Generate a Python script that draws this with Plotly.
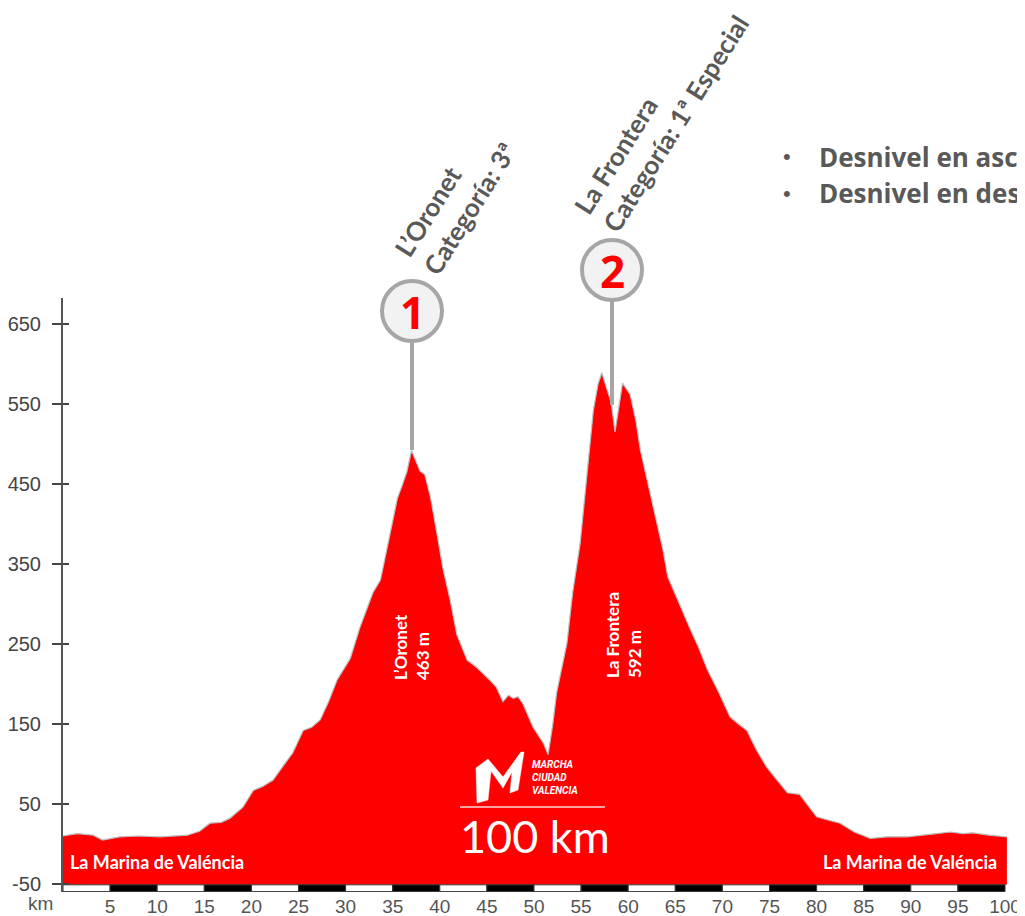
import plotly.graph_objects as go

# ---------------- data ----------------
km = [0.0, 1.5, 3.2, 4.2, 6.0, 8.0, 10.3, 12.0, 13.2, 14.5, 15.6, 16.8, 17.7, 19.1, 20.2,
      21.2, 22.3, 23.4, 24.4, 25.5, 26.4, 27.3, 28.2, 29.1, 30.5, 31.5, 32.9, 33.7, 34.7,
      35.5, 36.0, 36.5, 37.0, 37.5, 37.9, 38.4, 39.0, 39.7, 40.3, 41.1, 41.8, 42.9, 43.9,
      45.3, 46.0, 46.7, 47.3, 47.8, 48.3, 48.8, 49.9, 51.0, 51.5, 52.0, 52.4, 53.5, 54.1,
      54.9, 55.6, 56.3, 56.8, 57.2, 57.7, 58.2, 58.6, 59.0, 59.4, 60.2, 60.8, 61.3, 62.3,
      63.0, 63.7, 64.2, 65.2, 66.6, 67.5, 68.4, 69.6, 70.8, 71.7, 72.6, 73.6, 74.7, 75.8,
      76.9, 78.2, 79.2, 80.0, 81.2, 82.5, 84.0, 85.7, 87.5, 89.6, 92.0, 94.2, 95.5, 96.6,
      98.3, 100.2]
elevation = [10, 13, 11, 5, 9, 10, 9, 10, 11, 16, 26, 27, 32, 46, 67,
             72, 80, 98, 114, 142, 146, 155, 178, 205, 232, 270, 314, 330, 389,
             432, 448, 465, 492, 478, 466, 462, 434, 388, 346, 305, 262, 230, 221,
             205, 196, 178, 186, 182, 184, 176, 146, 126, 112, 150, 189, 251, 314,
             376, 459, 542, 575, 589, 570, 552, 515, 545, 576, 562, 530, 492, 439,
             400, 367, 334, 306, 268, 245, 218, 190, 159, 150, 142, 118, 96, 80,
             64, 62, 46, 34, 30, 26, 15, 7, 9, 9, 12, 15, 13, 14, 11, 9]

x_ticks = [5, 10, 15, 20, 25, 30, 35, 40, 45, 50, 55, 60, 65, 70, 75, 80, 85, 90, 95, 100]
y_ticks = [-50, 50, 150, 250, 350, 450, 550, 650]

climb_names = ["L’Oronet", "La Frontera"]
climb_heights = [463, 592]
climb_cats = ["Categoría: 3ª", "Categoría: 1ª Especial"]
climb_numbers = ["1", "2"]
start_finish = "La Marina de Valéncia"
distance_label = "100 km"
bullets = ["Desnivel en asc", "Desnivel en des"]

# ---------------- geometry helpers ----------------
# The page body has an 8px margin, so the figure is sized to fill the rest of the window
OFF = 8
W, H = 1025 - OFF, 916 - OFF
P_LEFT, P_RIGHT, P_TOP, P_BOTTOM = 63, 1010, 298, 892   # desired plot area on the page
L, R, T, B = P_LEFT - OFF, W - (P_RIGHT - OFF), P_TOP - OFF, H - (P_BOTTOM - OFF)
PW, PH = W - L - R, H - T - B
X_RANGE = [0, (P_RIGHT - P_LEFT) / 9.42]
Y_RANGE = [-60, 682.5]


def px(P):
    return (P - OFF - L) / PW


def py(P):
    return (H - B - (P - OFF)) / PH


RED = "#ff0000"
GREY_TXT = "#595959"
BASE = -51

fig = go.Figure()
fig.add_trace(go.Scatter(x=km, y=[BASE] * len(km), mode="lines",
                         line=dict(width=0), hoverinfo="skip", showlegend=False))
fig.add_trace(go.Scatter(x=km, y=elevation, mode="lines", fill="tonexty",
                         fillcolor=RED, line=dict(color="#bdbdbd", width=1.2),
                         showlegend=False))

shapes = []
# black / white km bar
for i, k in enumerate([0] + x_ticks[:-1]):
    shapes.append(dict(type="rect", xref="x", yref="y", x0=k, x1=k + 5, y0=-59.5, y1=BASE,
                       fillcolor="white" if i % 2 == 0 else "black",
                       line=dict(color="#333333", width=1), layer="above"))

# climb markers: circles + connector lines
circle_px = [(412, 311), (612, 270)]
line_bottom = [450, 405]
rad = 30
for (cx, cy), yb in zip(circle_px, line_bottom):
    shapes.append(dict(type="line", xref="paper", yref="paper",
                       x0=px(cx), x1=px(cx), y0=py(cy + rad), y1=py(yb),
                       line=dict(color="#a6a6a6", width=4)))
    shapes.append(dict(type="circle", xref="paper", yref="paper",
                       x0=px(cx - rad), x1=px(cx + rad), y0=py(cy + rad), y1=py(cy - rad),
                       fillcolor="#f2f2f2", line=dict(color="#a6a6a6", width=4)))

# logo "M"
logo_pts = [(476, 768), (488, 759), (503, 777), (521, 752), (524, 752), (518, 790),
            (510, 793), (512, 772), (503, 788), (491, 771), (488, 800), (477, 803)]
path = "M " + " L ".join(f"{px(a):.5f},{py(b):.5f}" for a, b in logo_pts) + " Z"
shapes.append(dict(type="path", xref="paper", yref="paper", path=path,
                   fillcolor="white", line=dict(color="white", width=0.5)))
shapes.append(dict(type="line", xref="paper", yref="paper", x0=px(460), x1=px(605),
                   y0=py(807), y1=py(807), line=dict(color="#ffd6d6", width=1.5)))

ann = []
FONT = "Lato"
# rotated climb titles
title_centers = [(455, 200), (661, 115)]
for (cx, cy), nm, cat in zip(title_centers, climb_names, climb_cats):
    ann.append(dict(xref="paper", yref="paper", x=px(cx), y=py(cy), text=f"<b>{nm}<br>{cat}</b>",
                    showarrow=False, textangle=-58, align="left", xanchor="center", yanchor="middle",
                    font=dict(family=FONT, size=26, color=GREY_TXT)))
# circle numbers
for (cx, cy), n in zip(circle_px, climb_numbers):
    ann.append(dict(xref="paper", yref="paper", x=px(cx), y=py(cy + 1), text=f"<b>{n}</b>",
                    showarrow=False, xanchor="center", yanchor="middle",
                    font=dict(family="Open Sans", size=44, color=RED)))
# inner vertical labels
inner_centers = [(411, 647), (623, 635)]
for (cx, cy), nm, h in zip(inner_centers, climb_names, climb_heights):
    ann.append(dict(xref="paper", yref="paper", x=px(cx), y=py(cy), text=f"<b>{nm}<br>{h} m</b>",
                    showarrow=False, textangle=-90, align="left", xanchor="center", yanchor="middle",
                    font=dict(family=FONT, size=17, color="white")))
# start / finish
ann.append(dict(xref="paper", yref="paper", x=px(68), y=py(862), text=f"<b>{start_finish}</b>",
                showarrow=False, xanchor="left", yanchor="middle",
                font=dict(family=FONT, size=18, color="white")))
ann.append(dict(xref="paper", yref="paper", x=px(999), y=py(862), text=f"<b>{start_finish}</b>",
                showarrow=False, xanchor="right", yanchor="middle",
                font=dict(family=FONT, size=18, color="white")))
# logo text and distance
ann.append(dict(xref="paper", yref="paper", x=px(530), y=py(777),
                text="<b><i>MARCHA<br>CIUDAD<br>VALENCIA</i></b>",
                showarrow=False, xanchor="left", yanchor="middle", align="left",
                font=dict(family="Roboto", size=10, color="white")))
ann.append(dict(xref="paper", yref="paper", x=px(535), y=py(836), text=distance_label,
                showarrow=False, xanchor="center", yanchor="middle",
                font=dict(family=FONT, size=45, color="white")))
# km label
ann.append(dict(xref="paper", yref="paper", x=px(40), y=py(903), text="km",
                showarrow=False, xanchor="center", yanchor="middle",
                font=dict(family="Liberation Sans", size=19, color="#555555")))
# bullets
for yb, txt in zip([157, 193], bullets):
    ann.append(dict(xref="paper", yref="paper", x=px(781), y=py(yb), text="•",
                    showarrow=False, xanchor="left", yanchor="middle",
                    font=dict(family="Liberation Sans", size=22, color=GREY_TXT)))
    ann.append(dict(xref="paper", yref="paper", x=px(817), y=py(yb), text=f"<b>{txt}</b>",
                    showarrow=False, xanchor="left", yanchor="middle",
                    font=dict(family="Open Sans", size=26, color=GREY_TXT)))

fig.update_layout(
    width=W, height=H, margin=dict(l=L, r=R, t=T, b=B, autoexpand=False),
    paper_bgcolor="white", plot_bgcolor="white",
    shapes=shapes, annotations=ann, showlegend=False,
    xaxis=dict(range=X_RANGE, tickvals=x_ticks, ticktext=[str(v) for v in x_ticks],
               showgrid=False, zeroline=False, showline=False, ticks="", automargin=False,
               ticklabelstandoff=1,
               tickfont=dict(family="Liberation Sans", size=19, color="#555555")),
    yaxis=dict(range=Y_RANGE, tickvals=y_ticks, ticktext=[str(v) for v in y_ticks],
               showgrid=False, zeroline=False, automargin=False,
               showline=True, linecolor="#555555", linewidth=2,
               ticks="outside", ticklen=9, tickwidth=1.5, tickcolor="#444444",
               ticklabelstandoff=7,
               tickfont=dict(family="Liberation Sans", size=20, color="#444444")),
    yaxis2=dict(range=Y_RANGE, overlaying="y", tickvals=y_ticks, showticklabels=False,
                ticks="inside", ticklen=6, tickwidth=1.5, tickcolor="#444444", automargin=False,
                showgrid=False, zeroline=False, showline=False, side="left"),
)
fig.add_trace(go.Scatter(x=[None], y=[None], yaxis="y2", showlegend=False))

fig.write_html("out.html")
